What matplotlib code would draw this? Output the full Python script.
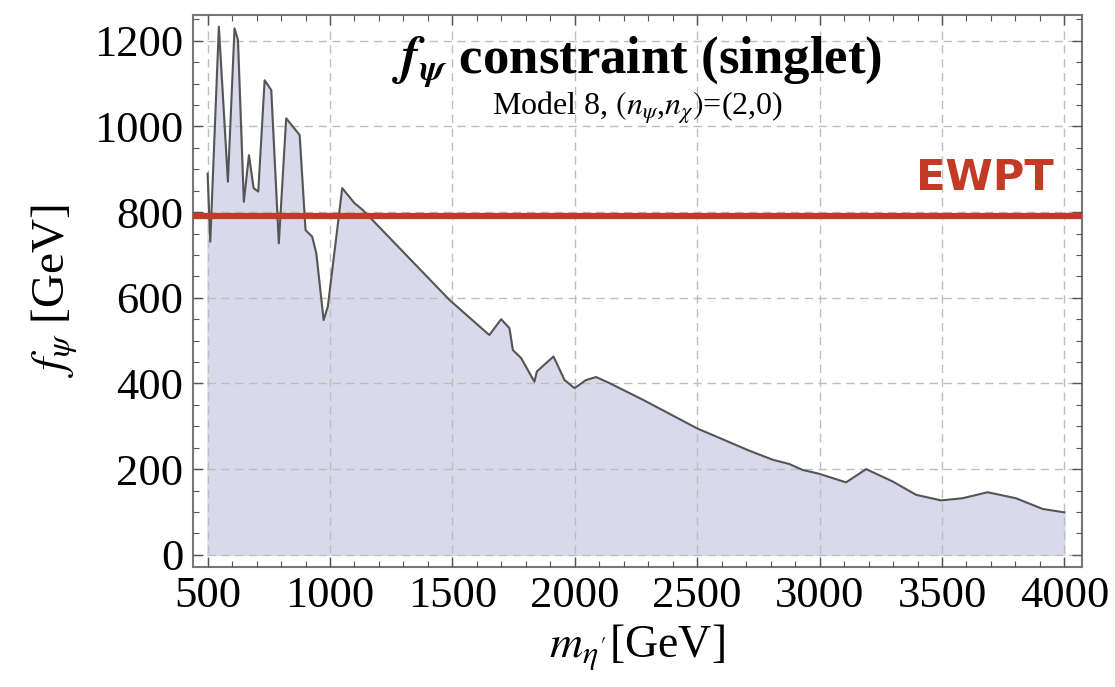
import numpy as np
import matplotlib
matplotlib.use('Agg')
import matplotlib.pyplot as plt
from matplotlib.ticker import MultipleLocator

# constraint curve (GeV)
mass = [500, 511, 546, 583, 610, 624, 648, 669, 688, 707, 733, 760, 791, 821,
        876, 900, 927, 944, 974, 991, 1050, 1100, 1134, 1488, 1651, 1699, 1733,
        1747, 1781, 1835, 1845, 1913, 1958, 1999, 2046, 2087, 2141, 2278, 2500,
        2713, 2808, 2876, 2931, 2999, 3108, 3190, 3299, 3394, 3496, 3584, 3686,
        3802, 3911, 4000]
f_psi = [890, 731, 1233, 871, 1229, 1202, 824, 933, 856, 848, 1108, 1085, 727,
         1019, 980, 758, 743, 704, 548, 579, 856, 821, 805, 595, 513, 550, 529,
         478, 459, 404, 428, 463, 408, 389, 408, 415, 401, 362, 295, 243, 222,
         212, 198, 189, 169, 200, 171, 140, 127, 132, 146, 132, 107, 99]
ewpt_bound = 790

x_ticks = [500, 1000, 1500, 2000, 2500, 3000, 3500, 4000]
y_ticks = [0, 200, 400, 600, 800, 1000, 1200]

plt.rcParams['font.family'] = ['Liberation Serif', 'DejaVu Serif']
plt.rcParams['mathtext.fontset'] = 'stix'

fig = plt.figure(figsize=(11.15, 6.87), dpi=100)
ax = fig.add_axes([0.173, 0.175, 0.797, 0.803])

ax.fill_between(mass, 0, f_psi, color='#d9d9eb', zorder=1)
ax.plot(mass, f_psi, color='#555555', lw=1.5, zorder=3)

# EWPT bound, drawn like a marker stroke
ax.axhline(ewpt_bound, color='#c33a26', lw=4.5, zorder=4)
ax.text(3675, 880, 'EWPT', color='#c33a26', fontsize=31, family='DejaVu Sans',
        fontweight='bold', ha='center', va='center', zorder=5)

ax.set_xlim(440, 4070)
ax.set_ylim(-28, 1260)
ax.set_xticks(x_ticks)
ax.set_yticks(y_ticks)
ax.xaxis.set_minor_locator(MultipleLocator(100))
ax.yaxis.set_minor_locator(MultipleLocator(50))
ax.grid(True, which='major', ls=(0, (6, 4)), color='#bdbdbd', lw=1.0, zorder=2)
ax.set_axisbelow(False)

ax.tick_params(which='both', direction='in', top=True, right=True,
               color='#555555', labelsize=32, pad=7)
ax.tick_params(which='major', length=7, width=1.0)
ax.tick_params(which='minor', length=4, width=0.8)
for s in ax.spines.values():
    s.set_color('#777777')
    s.set_linewidth(1.5)

ax.set_xlabel(r"$m_{\eta'}$[GeV]", fontsize=33, labelpad=4)
ax.set_ylabel(r"$f_{\psi}$ [GeV]", fontsize=34, labelpad=10)

ax.text(0.5, 0.915, r"$\mathbfit{f}_{\mathbfit{\psi}}$ constraint (singlet)",
        transform=ax.transAxes, ha='center', va='center', fontsize=38,
        fontweight='bold')
ax.text(0.5, 0.832, r"Model 8, $(n_{\psi}$,$n_{\chi})$=(2,0)",
        transform=ax.transAxes, ha='center', va='center', fontsize=23)

fig.savefig('out.png', dpi=100)
